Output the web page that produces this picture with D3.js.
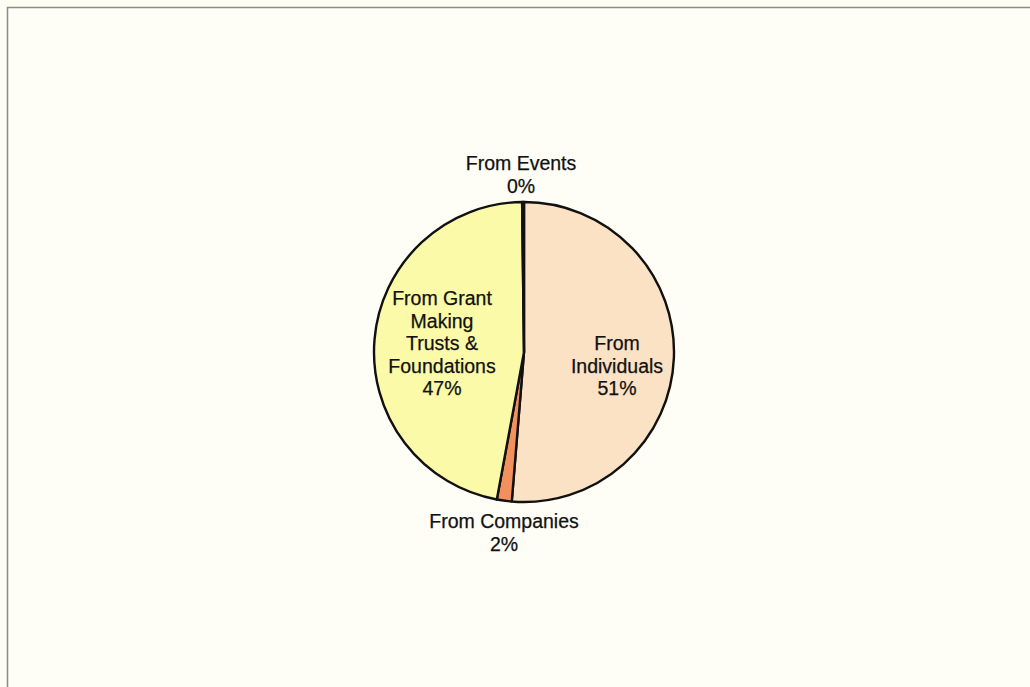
<!DOCTYPE html>
<html>
<head>
<meta charset="utf-8">
<script src="https://cdn.jsdelivr.net/npm/d3@7"></script>
<style>
  html, body { margin: 0; padding: 0; background: #fdfdf4; }
  svg { display: block; }
</style>
</head>
<body>
<script>
// slice data, clockwise from 12 o'clock
const categories = ["From Individuals", "From Companies", "From Grant Making Trusts & Foundations", "From Events"];
const values = [51.3, 1.6, 46.9, 0.2];
const colors = ["#fbe2c4", "#f2905e", "#fafaa8", "#fbe2c4"];
// label lines as in the chart (wrapped)
const labelLines = [
  ["From", "Individuals"],
  ["From Companies"],
  ["From Grant", "Making", "Trusts &", "Foundations"],
  ["From Events"]
];

const W = 1030, H = 687;
const cx = 524, cy = 352, r = 150;

const svg = d3.select("body").append("svg")
  .attr("width", W).attr("height", H);

// chart area border (only top/left visible)
svg.append("rect")
  .attr("x", 7.5).attr("y", 7.5)
  .attr("width", W + 20).attr("height", H + 20)
  .attr("fill", "#fefef6")
  .attr("stroke", "#8a8a8a")
  .attr("stroke-width", 1.5);

const pie = d3.pie().sort(null).value(d => d);
const arcs = pie(values);
const arc = d3.arc().innerRadius(0).outerRadius(r);

const g = svg.append("g").attr("transform", `translate(${cx},${cy})`);

g.selectAll("path")
  .data(arcs)
  .enter().append("path")
  .attr("d", arc)
  .attr("fill", (d, i) => colors[i])
  .attr("stroke", "#111")
  .attr("stroke-width", 2.4)
  .attr("stroke-linejoin", "round");

const total = d3.sum(values);
const pct = v => Math.round(v / total * 100) + "%";

// label anchors (centre x, first baseline y), relative to pie centre
const labelPos = [
  [93, -2],
  [-20, 176],
  [-82, -47],
  [-3, -182]
];

const lh = 22.6;
arcs.forEach((a, i) => {
  const lines = labelLines[i].concat([pct(values[i])]);
  const t = g.append("text")
    .attr("text-anchor", "middle")
    .attr("font-family", "Liberation Sans, Arial, sans-serif")
    .attr("font-size", 19.5)
    .attr("fill", "#111")
    .attr("stroke", "#111")
    .attr("stroke-width", 0.25);
  lines.forEach((s, k) => {
    t.append("tspan")
      .attr("x", labelPos[i][0])
      .attr("y", labelPos[i][1] + k * lh)
      .text(s);
  });
});
</script>
</body>
</html>
